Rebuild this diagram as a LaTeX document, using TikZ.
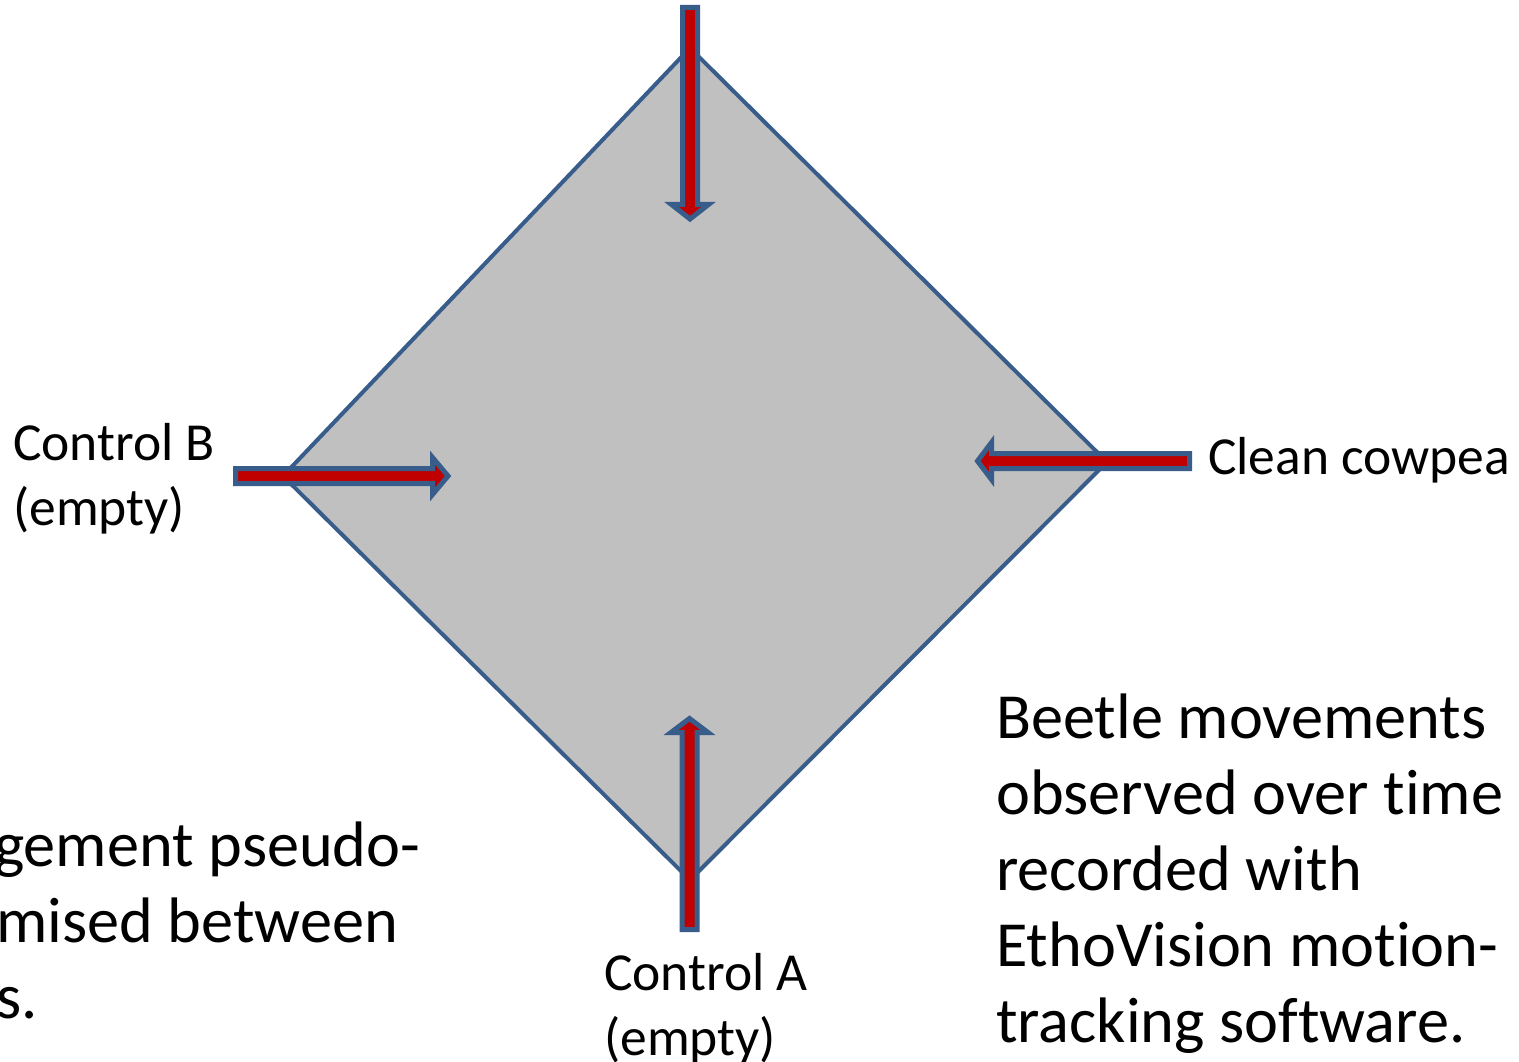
\documentclass[tikz,border=0pt]{standalone}
\usepackage{fontspec}
\setmainfont{Carlito}[Ligatures={NoCommon,NoRequired,NoContextual}]
\newcommand{\nolig}{\kern0pt{}}
\definecolor{boxgray}{HTML}{C0C0C0}
\definecolor{edgeblue}{HTML}{385D8A}
\definecolor{arrowred}{HTML}{C00000}
\tikzset{
  arena/.style={fill=boxgray, draw=edgeblue, line width=4pt, line join=miter},
  blockarrow/.style={fill=arrowred, draw=edgeblue, line width=5pt, line join=miter, miter limit=10},
  smalllabel/.style={font=\fontsize{53.5}{65}\selectfont, inner sep=0pt, anchor=base west},
  biglabel/.style={font=\fontsize{64.3}{76}\selectfont, inner sep=0pt, anchor=base west},
}
\begin{document}
\begin{tikzpicture}[x=1pt,y=-1pt]
\useasboundingbox (0,0) rectangle (1519,1062);
\fill[white] (0,0) rectangle (1519,1062);
% arena
\coordinate (T) at (690,48);
\coordinate (R) at (1107,462);
\coordinate (B) at (690,880);
\coordinate (L) at (283,476);
\draw[arena] (T) -- (R) -- (B) -- (L) -- cycle;
% arrows
\draw[blockarrow] (682.5,7.5) -- (682.5,204.5) -- (671.5,204.5) -- (690,219) -- (708.5,204.5) -- (697.5,204.5) -- (697.5,7.5) -- cycle;
\draw[blockarrow] (235.5,468.5) -- (432.5,468.5) -- (432.5,457.5) -- (448,476) -- (432.5,494.5) -- (432.5,483.5) -- (235.5,483.5) -- cycle;
\draw[blockarrow] (1189.5,453.5) -- (991.5,453.5) -- (991.5,442.5) -- (977.5,461) -- (991.5,479.5) -- (991.5,468.5) -- (1189.5,468.5) -- cycle;
\draw[blockarrow] (682,929.5) -- (682,732.5) -- (671,732.5) -- (689.5,718.5) -- (708,732.5) -- (697,732.5) -- (697,929.5) -- cycle;
% labels
\node[smalllabel] (cb1) at (13,460) {Control B};
\node[smalllabel] (cb2) at (13,525) {(empty)};
\node[smalllabel] (cc) at (1208,474) {Clean cowpea};
\node[smalllabel] (ca1) at (604,990) {Control A};
\node[smalllabel] (ca2) at (604,1055) {(empty)};
% right text
\node[biglabel] (r1) at (996,738) {Beetle movements};
\node[biglabel] (r2) at (996,814) {observed over t\nolig ime};
\node[biglabel] (r3) at (996,890) {recorded with};
\node[biglabel] (r4) at (996,966) {EthoVision mot\nolig ion-};
\node[biglabel] (r5) at (996,1042) {tracking software.};
% left text (cropped)
\node[biglabel] (l1) at (-6,866) {gement pseudo-};
\node[biglabel] (l2) at (-4,942) {mised between};
\node[biglabel] (l3) at (-4,1018) {s.};
\end{tikzpicture}
\end{document}
